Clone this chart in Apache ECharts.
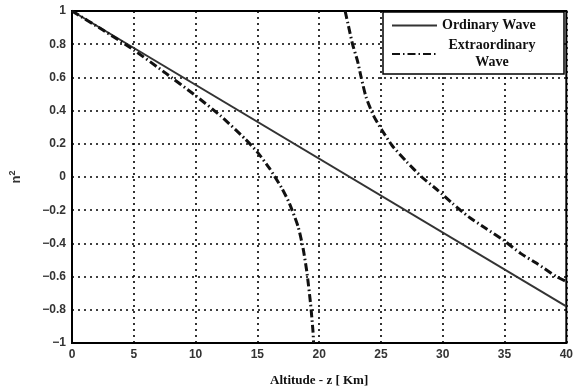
<!DOCTYPE html>
<html>
<head>
<meta charset="utf-8">
<script src="https://cdn.jsdelivr.net/npm/echarts@6/dist/echarts.min.js"></script>
<style>
  html, body { margin: 0; padding: 0; background: #fff; }
  #main { width: 576px; height: 392px; }
</style>
</head>
<body>
<div id="main"></div>
<script>
// data: altitude z [km] -> n^2
var ordinaryWave = [[0, 1], [40, -0.78]];
// extraordinary wave, lower branch (ends at resonance near z = 19.5)
var extraLow = [
  [0, 1], [2.5, 0.885], [5, 0.765], [7.5, 0.63], [10, 0.49], [12, 0.37],
  [14, 0.23], [15, 0.15], [16, 0.05], [17, -0.07], [17.6, -0.16],
  [18.3, -0.3], [18.7, -0.43], [19, -0.57], [19.3, -0.76], [19.5, -0.93], [19.55, -1]
];
// extraordinary wave, upper branch
var extraHigh = [
  [22.1, 1], [22.4, 0.9], [22.7, 0.8], [23.1, 0.7], [23.4, 0.6],
  [23.8, 0.48], [24.4, 0.37], [25.1, 0.28], [25.9, 0.19], [27.1, 0.09],
  [28.3, 0.0], [29.6, -0.08], [30.8, -0.16], [32.1, -0.24], [33.5, -0.31],
  [34.9, -0.38], [36.3, -0.46], [37.6, -0.52], [39.2, -0.6], [40, -0.63]
];
var legendNames = ['Ordinary Wave', 'Extraordinary\nWave'];

var myChart = echarts.init(document.getElementById('main'));

var dotted = { color: '#000', width: 1.6, type: [2, 4] };
var dashDot = { color: '#111', width: 3, type: [8, 3, 1.5, 3] };
var tickFont = { color: '#333', fontFamily: 'Liberation Sans', fontWeight: 'bold', fontSize: 12 };

var option = {
    animation: false,
    backgroundColor: '#fff',
    grid: {
        left: 69, right: 6, top: 11, bottom: 47,
        show: true, borderColor: '#000', borderWidth: 2
    },
    legend: {
        data: legendNames,
        orient: 'vertical',
        left: 383, top: 12,
        itemWidth: 45, itemHeight: 10, itemGap: 3,
        padding: [5, 22, 3, 8],
        backgroundColor: '#fff',
        borderColor: '#000', borderWidth: 1.5,
        itemStyle: { opacity: 0 },
        textStyle: {
            color: '#111', fontFamily: 'Liberation Serif', fontWeight: 'bold',
            fontSize: 14, lineHeight: 17,
            rich: {
                c: { width: 100, align: 'center', fontFamily: 'Liberation Serif', fontWeight: 'bold', fontSize: 14, lineHeight: 17, color: '#111' }
            }
        },
        formatter: function (name) {
            return name === legendNames[1] ? '{c|Extraordinary}\n{c|Wave}' : name;
        }
    },
    xAxis: {
        type: 'value', min: 0, max: 40, interval: 5,
        name: 'Altitude - z [ Km]', nameLocation: 'middle', nameGap: 31,
        nameTextStyle: { color: '#111', fontFamily: 'Liberation Serif', fontWeight: 'bold', fontSize: 13 },
        axisLine: { onZero: false, lineStyle: { color: '#000', width: 2 } },
        axisTick: { show: false },
        axisLabel: Object.assign({ margin: 6 }, tickFont),
        splitLine: { show: true, lineStyle: dotted }
    },
    yAxis: {
        type: 'value', min: -1, max: 1, interval: 0.2,
        name: '{b|n}{s|2}', nameLocation: 'middle', nameGap: 47, nameRotate: 90,
        nameTextStyle: {
            rich: {
                b: { color: '#333', fontFamily: 'Liberation Sans', fontWeight: 'bold', fontSize: 13 },
                s: { color: '#333', fontFamily: 'Liberation Sans', fontWeight: 'bold', fontSize: 9, verticalAlign: 'top', padding: [0, 0, 8, 0] }
            }
        },
        axisLine: { onZero: false, lineStyle: { color: '#000', width: 2 } },
        axisTick: { show: false },
        axisLabel: Object.assign({
            margin: 6,
            formatter: function (v) { return String(Number(v.toFixed(1))).replace('-', '\u2212'); }
        }, tickFont),
        splitLine: { show: true, lineStyle: dotted }
    },
    series: [
        {
            name: legendNames[0], type: 'line', data: ordinaryWave,
            symbol: 'none', color: '#333',
            lineStyle: { color: '#333', width: 2 }
        },
        {
            name: legendNames[1], type: 'line', data: extraLow,
            symbol: 'none', smooth: 0.2, color: '#111',
            lineStyle: dashDot
        },
        {
            name: legendNames[1], type: 'line', data: extraHigh,
            symbol: 'none', smooth: 0.2, color: '#111',
            lineStyle: dashDot
        }
    ]
};
myChart.setOption(option);
</script>
</body>
</html>
